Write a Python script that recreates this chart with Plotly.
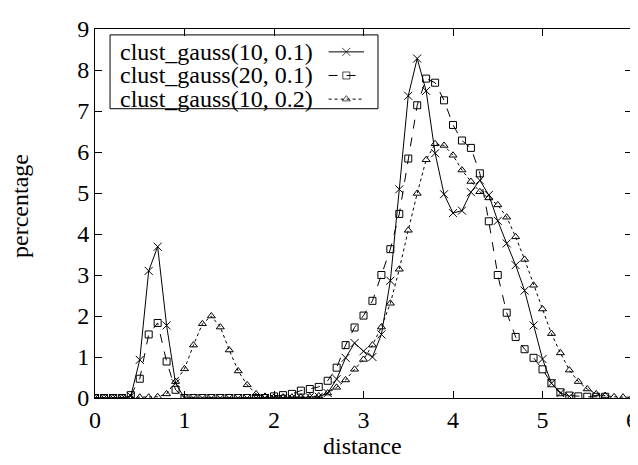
import plotly.graph_objects as go

# distance grid (0 .. 6, step 0.1)
distance = [0.0, 0.1, 0.2, 0.3, 0.4, 0.5, 0.6, 0.7, 0.8, 0.9,
            1.0, 1.1, 1.2, 1.3, 1.4, 1.5, 1.6, 1.7, 1.8, 1.9,
            2.0, 2.1, 2.2, 2.3, 2.4, 2.5, 2.6, 2.7, 2.8, 2.9,
            3.0, 3.1, 3.2, 3.3, 3.4, 3.5, 3.6, 3.7, 3.8, 3.9,
            4.0, 4.1, 4.2, 4.3, 4.4, 4.5, 4.6, 4.7, 4.8, 4.9,
            5.0, 5.1, 5.2, 5.3, 5.4, 5.5, 5.6, 5.7, 5.8, 5.9, 6.0]

# clust_gauss(10, 0.1): 0 .. 5.3
pct_10_01 = [0, 0, 0, 0, 0.05, 0.93, 3.10, 3.69, 1.77, 0.36,
             0, 0, 0, 0, 0, 0, 0, 0, 0, 0,
             0, 0, 0, 0.01, 0.02, 0.03, 0.12, 0.46, 0.98, 1.34,
             1.14, 1.00, 1.55, 2.86, 5.09, 7.37, 8.28, 7.49, 5.97, 4.97,
             4.51, 4.57, 5.02, 5.31, 4.95, 4.32, 3.77, 3.24, 2.62, 1.77,
             0.95, 0.36, 0.12, 0.04]

# clust_gauss(20, 0.1): 0 .. 5.7
pct_20_01 = [0, 0, 0, 0, 0.07, 0.47, 1.55, 1.83, 0.89, 0.20,
             0, 0, 0, 0, 0, 0, 0, 0, 0, 0,
             0.04, 0.07, 0.10, 0.18, 0.22, 0.27, 0.42, 0.74, 1.29, 1.72,
             2.01, 2.37, 3.00, 3.63, 4.49, 5.84, 7.14, 7.79, 7.69, 7.26,
             6.66, 6.28, 6.10, 5.48, 4.31, 3.00, 2.08, 1.49, 1.19, 0.98,
             0.70, 0.36, 0.14, 0.06, 0.04, 0.03, 0.03, 0.03]

# clust_gauss(10, 0.2): 0 .. 6.0
pct_10_02 = [0, 0, 0, 0, 0.01, 0.02, 0.02, 0.03, 0.10, 0.40,
             0.71, 1.29, 1.81, 2.00, 1.73, 1.17, 0.66, 0.32, 0.10, 0.04,
             0.02, 0.02, 0.02, 0.02, 0.03, 0.05, 0.12, 0.26, 0.44, 0.70,
             0.94, 1.29, 1.73, 2.31, 3.14, 4.09, 4.99, 5.81, 6.20, 6.16,
             5.92, 5.56, 5.28, 5.03, 4.88, 4.71, 4.41, 3.93, 3.38, 2.75,
             2.17, 1.57, 1.10, 0.68, 0.40, 0.22, 0.10, 0.06, 0.03, 0.02, 0.02]

names = ["clust_gauss(10, 0.1)", "clust_gauss(20, 0.1)", "clust_gauss(10, 0.2)"]
series = [pct_10_01, pct_20_01, pct_10_02]
dashes = ["solid", "dash", "dot"]
symbols = ["x-thin-open", "square-open", "triangle-up-open"]
sizes = [8, 7, 7]

FONT = "Liberation Serif, Times New Roman, serif"
SIZE = 24

fig = go.Figure()

for name, ys, dash, sym, sz in zip(names, series, dashes, symbols, sizes):
    fig.add_trace(go.Scatter(
        x=distance[:len(ys)], y=ys, name=name, mode="lines+markers",
        line=dict(color="black", width=1, dash=dash),
        marker=dict(symbol=sym, size=sz, color="black", line=dict(color="black", width=1)),
        showlegend=False,
    ))

# gnuplot-like key: text on the left, sample on the right
key_rows = [0.938, 0.874, 0.810]
for name, dash, sym, sz, ky in zip(names, dashes, symbols, sizes, key_rows):
    fig.add_trace(go.Scatter(
        x=[0.435, 0.468, 0.501], y=[ky, ky, ky], xaxis="x2", yaxis="y2",
        mode="lines+markers",
        line=dict(color="black", width=1, dash=dash),
        marker=dict(symbol=sym, size=[0, sz, 0], color="black", line=dict(color="black", width=1)),
        showlegend=False, hoverinfo="skip",
    ))
    fig.add_annotation(
        x=0.41, y=ky, xref="paper", yref="paper", text=name, showarrow=False,
        xanchor="right", yanchor="middle", font=dict(family=FONT, size=SIZE, color="black"),
    )

fig.add_shape(type="rect", xref="paper", yref="paper", x0=0.028, x1=0.527, y0=0.784, y1=0.984,
              line=dict(color="black", width=1))

# axis titles
fig.add_annotation(x=0.499, y=-0.13, xref="paper", yref="paper", text="distance", showarrow=False,
                   xanchor="center", yanchor="middle", font=dict(family=FONT, size=SIZE, color="black"))
fig.add_annotation(x=-0.14, y=0.52, xref="paper", yref="paper", text="percentage", showarrow=False,
                   textangle=-90, xanchor="center", yanchor="middle",
                   font=dict(family=FONT, size=SIZE, color="black"))

axis_common = dict(
    showline=True, linecolor="black", linewidth=1, mirror="allticks",
    ticks="inside", ticklen=7, tickcolor="black", tickwidth=1,
    showgrid=False, zeroline=False,
    tickfont=dict(family=FONT, size=SIZE, color="black"),
)

fig.update_layout(
    width=638, height=465,
    margin=dict(l=87, r=8, t=17, b=75),
    paper_bgcolor="white", plot_bgcolor="white",
    xaxis=dict(range=[0, 6], dtick=1, **axis_common),
    yaxis=dict(range=[0, 9], dtick=1, **axis_common),
    xaxis2=dict(overlaying="x", range=[0, 1], visible=False),
    yaxis2=dict(overlaying="y", range=[0, 1], visible=False),
)

fig.write_html("out.html")
